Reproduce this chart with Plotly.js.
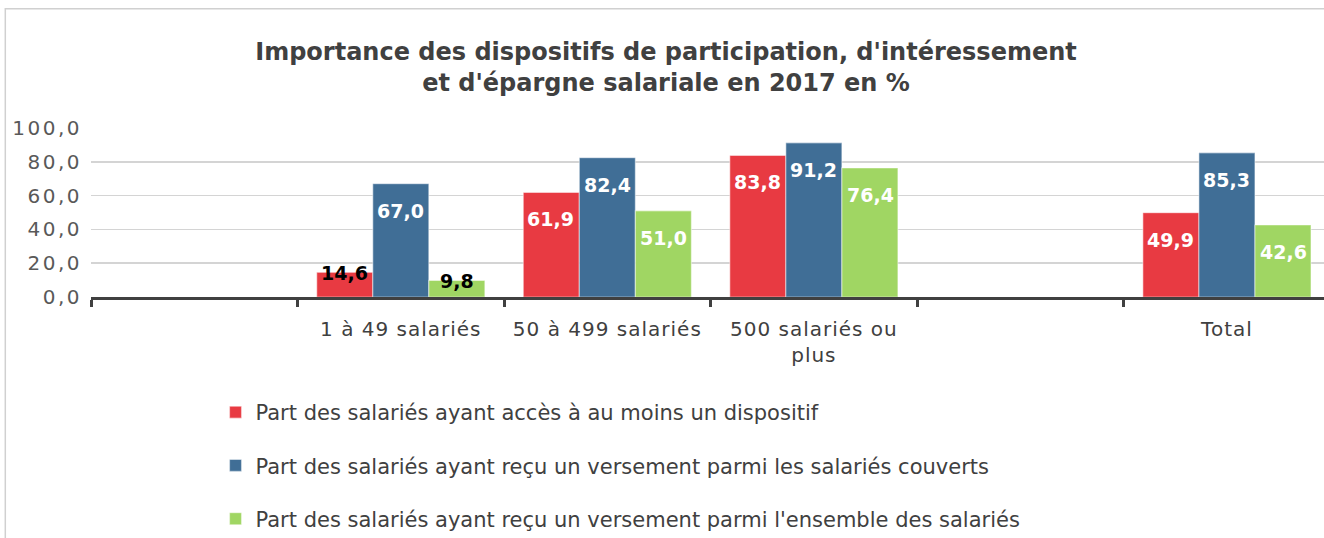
<!DOCTYPE html>
<html>
<head>
<meta charset="utf-8">
<script src="https://cdn.plot.ly/plotly-3.0.1.min.js"></script>
<style>
html,body{margin:0;padding:0;background:#fff;}
#chart{width:1324px;height:538px;}
#chart .ytick text{letter-spacing:2.5px;}
#chart .xtick text{letter-spacing:1px;}
</style>
</head>
<body>
<div id="chart"></div>
<script>
// ---- data ----
const categories = [' ', '1 à 49 salariés', '50 à 499 salariés', '500 salariés ou<br>plus', '  ', 'Total'];
const seriesNames = [
  'Part des salariés ayant accès à au moins un dispositif',
  'Part des salariés ayant reçu un versement parmi les salariés couverts',
  "Part des salariés ayant reçu un versement parmi l'ensemble des salariés"
];
const accesDispositif = [null, 14.6, 61.9, 83.8, null, 49.9];
const versementCouverts = [null, 67.0, 82.4, 91.2, null, 85.3];
const versementEnsemble = [null, 9.8, 51.0, 76.4, null, 42.6];
const yTickVals = [0, 20, 40, 60, 80, 100];

// ---- styling ----
const colors = ['rgb(232,58,66)', 'rgb(64,110,150)', 'rgb(160,214,99)'];
const FONT = 'DejaVu Sans, sans-serif';
const series = [accesDispositif, versementCouverts, versementEnsemble];
const barOffsets = [-56.5, 0, 56.5];
const smallThreshold = 20;

const traces = series.map((vals, i) => ({
  type: 'bar',
  name: seriesNames[i],
  x: categories,
  y: vals,
  legendgroup: 'g' + i,
  marker: {color: colors[i], line: {color: 'rgba(255,255,255,0.45)', width: 1.2}},
  hoverinfo: 'none'
}));

const annotations = [];
series.forEach((vals, i) => {
  vals.forEach((v, j) => {
    if (v === null) return;
    const small = v < smallThreshold;
    annotations.push({
      x: categories[j], y: v, xref: 'x', yref: 'y',
      xshift: barOffsets[i],
      yshift: small ? -1 : -27,
      text: v.toFixed(1).replace('.', ','),
      showarrow: false,
      font: {family: FONT, size: 19, color: small ? '#000000' : '#ffffff', weight: 'bold'}
    });
  });
});

const shapes = [{
  type: 'rect', xref: 'paper', yref: 'paper',
  x0: -0.0695, x1: 1.2, y0: -3, y1: 1.705,
  line: {color: '#d0d0d0', width: 1.5}, fillcolor: 'rgba(0,0,0,0)', layer: 'below'
}];

const layout = {
  width: 1324, height: 538,
  margin: {l: 91, r: 0, t: 128, b: 241, autoexpand: false},
  paper_bgcolor: '#ffffff', plot_bgcolor: '#ffffff',
  separators: ',.',
  font: {family: FONT, color: '#404040'},
  title: {
    text: "Importance des dispositifs de participation, d'intéressement<br>et d'épargne salariale en 2017 en %",
    x: 666 / 1324, xanchor: 'center', xref: 'container',
    y: 1 - 60 / 538, yanchor: 'middle', yref: 'container',
    font: {family: FONT, size: 24, color: '#404040', weight: 'bold'}
  },
  barmode: 'group',
  bargap: 0.186,
  bargroupgap: 0,
  showlegend: true,
  legend: {
    orientation: 'v', x: 0.101, xanchor: 'left', y: -1.432, yanchor: 'bottom',
    font: {family: FONT, size: 21, color: '#404040'},
    tracegroupgap: 23, traceorder: 'grouped', itemwidth: 30,
    bgcolor: 'rgba(0,0,0,0)'
  },
  xaxis: {
    type: 'category', range: [-0.5, 5.47], fixedrange: true,
    showline: true, linecolor: '#404040', linewidth: 3,
    ticks: 'outside', tickson: 'boundaries', ticklen: 7, tickwidth: 3, tickcolor: '#404040',
    ticklabelstandoff: 12,
    showgrid: false, zeroline: false,
    tickfont: {family: FONT, size: 20, color: '#404040'}
  },
  yaxis: {
    range: [0, 100], tickvals: yTickVals, tickformat: '.1f',
    showgrid: true, gridcolor: '#d4d4d4', gridwidth: 1.5,
    zeroline: false, showline: false, ticks: '',
    ticklabelstandoff: 8,
    tickfont: {family: FONT, size: 20, color: '#595959'}
  },
  annotations: annotations,
  shapes: shapes
};

Plotly.newPlot('chart', traces, layout, {displayModeBar: false, staticPlot: true});
</script>
</body>
</html>
